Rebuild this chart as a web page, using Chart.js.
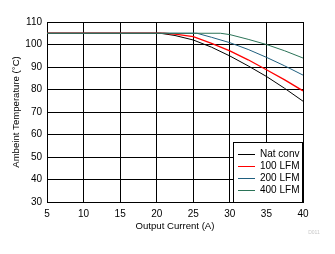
<!DOCTYPE html>
<html><head><meta charset="utf-8">
<script src="https://cdn.jsdelivr.net/npm/chart.js@4/dist/chart.umd.min.js"></script>
<style>html,body{margin:0;padding:0;background:#fff;}#c{display:block;}</style>
</head><body>
<canvas id="c" width="335" height="254"></canvas>
<script>
const seriesNames = ["Nat conv", "100 LFM", "200 LFM", "400 LFM"];
const seriesColors = ["#000000", "#ff0000", "#1f5f7f", "#2b7357"];
const natX = [5, 20.5, 22.5, 25, 27.5, 30, 32.5, 35, 37.5, 40];
const natY = [105, 105, 104, 102, 98.8, 94.9, 90.5, 85.8, 80.5, 74.8];
const lfm100X = [5, 21, 22.5, 25, 27.5, 30, 32.5, 35, 37.5, 40];
const lfm100Y = [105, 105, 104.6, 103.5, 100.5, 97.2, 93.2, 88.8, 84.3, 79.4];
const lfm200X = [5, 25.5, 27.5, 30, 32.5, 35, 37.5, 40];
const lfm200Y = [105, 105, 103.2, 100.8, 97.8, 94.3, 90.5, 86.4];
const lfm400X = [5, 28.7, 30, 32.5, 35, 37.5, 40];
const lfm400Y = [105, 105, 104.4, 102.3, 100, 97.2, 94];
const xTicks = [5, 10, 15, 20, 25, 30, 35, 40];
const yTicks = [30, 40, 50, 60, 70, 80, 90, 100, 110];
const xTitle = "Output Current (A)";
const yTitle = "Ambeint Temperature (\u00B0C)";
const footNote = "D011";

const FONT = "'Liberation Sans', Arial, sans-serif";
const xs = [natX, lfm100X, lfm200X, lfm400X];
const ys = [natY, lfm100Y, lfm200Y, lfm400Y];
const datasets = seriesNames.map((n, i) => ({
  label: n,
  data: xs[i].map((x, j) => ({x: x, y: ys[i][j]})),
  borderColor: seriesColors[i],
  borderWidth: i === 1 ? 1.3 : 1,
  pointRadius: 0,
  tension: 0,
  fill: false,
  order: 3 - i
}));

const extras = {
  id: 'extras',
  afterDraw(chart) {
    const ctx = chart.ctx;
    const a = chart.chartArea;
    ctx.save();
    // legend box
    const bx = 233, by = 142, bw = a.right - 233, bh = a.bottom - 142;
    ctx.fillStyle = '#fff';
    ctx.fillRect(bx, by, bw, bh);
    ctx.strokeStyle = '#000';
    ctx.lineWidth = 1;
    ctx.strokeRect(bx + 0.5, by + 0.5, bw - 1, bh);
    ctx.font = "10px " + FONT;
    ctx.textBaseline = 'middle';
    ctx.textAlign = 'left';
    seriesNames.forEach((n, i) => {
      const y = 154.5 + i * 12;
      ctx.strokeStyle = seriesColors[i];
      ctx.beginPath(); ctx.moveTo(238, y); ctx.lineTo(255, y); ctx.stroke();
      ctx.fillStyle = '#000';
      ctx.fillText(n, 260, y);
    });
    // titles
    ctx.fillStyle = '#000';
    ctx.textAlign = 'center';
    ctx.font = "9.6px " + FONT;
    ctx.fillText(xTitle, (a.left + a.right) / 2, 226);
    ctx.save();
    ctx.translate(16, (a.top + a.bottom) / 2);
    ctx.rotate(-Math.PI / 2);
    ctx.fillText(yTitle, 0, 0);
    ctx.restore();
    ctx.font = "5px " + FONT;
    ctx.fillStyle = '#c8c8c8';
    ctx.fillText(footNote, 314, 233);
    ctx.restore();
  }
};

new Chart(document.getElementById('c'), {
  type: 'line',
  data: { datasets: datasets },
  options: {
    responsive: false,
    animation: false,
    layout: { padding: { top: 22, right: 32, left: 0, bottom: 0 } },
    plugins: { legend: { display: false }, tooltip: { enabled: false } },
    scales: {
      x: {
        type: 'linear', min: 5, max: 40,
        afterBuildTicks: s => { s.ticks = xTicks.map(v => ({value: v})); },
        afterFit: s => { s.height = 52; },
        grid: { color: '#000', lineWidth: 1, drawTicks: false },
        border: { color: '#000', width: 1 },
        ticks: { color: '#000', font: { family: FONT, size: 10 }, padding: 6, maxRotation: 0 }
      },
      y: {
        type: 'linear', min: 30, max: 110,
        afterBuildTicks: s => { s.ticks = yTicks.map(v => ({value: v})); },
        afterFit: s => { s.width = 47; },
        grid: { color: '#000', lineWidth: 1, drawTicks: false },
        border: { color: '#000', width: 1 },
        ticks: { color: '#000', font: { family: FONT, size: 10 }, padding: 5 }
      }
    }
  },
  plugins: [extras]
});
</script>
</body></html>
